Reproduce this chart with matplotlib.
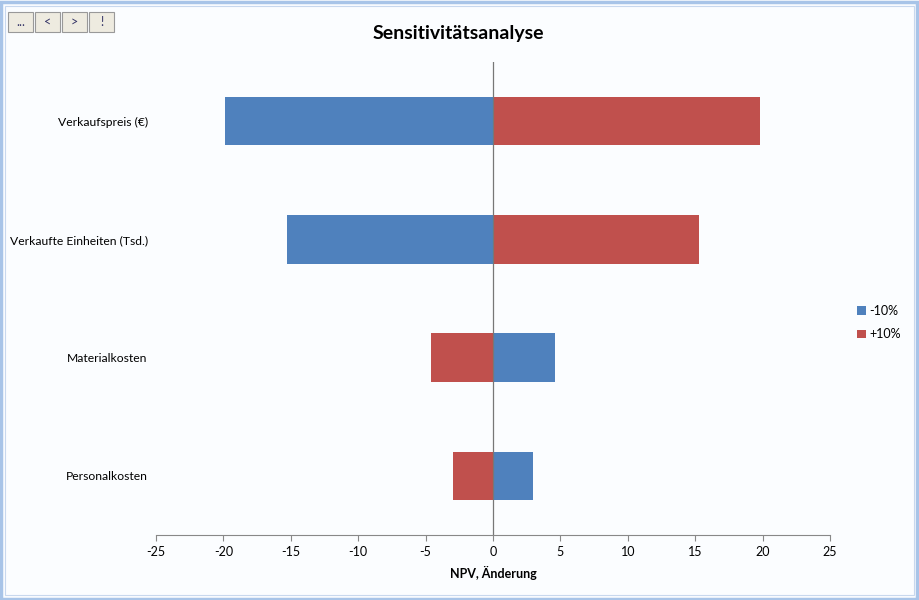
import matplotlib.pyplot as plt
from matplotlib.patches import Rectangle

# Daten
kategorien = ["Verkaufspreis (€)", "Verkaufte Einheiten (Tsd.)", "Materialkosten", "Personalkosten"]
minus_10 = [-19.9, -15.3, 4.6, 3.0]
plus_10 = [19.8, 15.3, -4.6, -3.0]
serien = ["-10%", "+10%"]
ticks_x = [-25, -20, -15, -10, -5, 0, 5, 10, 15, 20, 25]

BLAU = "#4F81BD"
ROT = "#C0504D"
HINTERGRUND = "#FBFDFF"

plt.rcParams['font.family'] = ['Lato', 'DejaVu Sans']

fig = plt.figure(figsize=(9.19, 6.0), dpi=100, facecolor=HINTERGRUND)
ax = fig.add_axes([156/919, 1 - 535/600, (830-156)/919, (535-62)/600])
ax.set_facecolor(HINTERGRUND)

y = list(range(len(kategorien)))
ax.barh(y, minus_10, height=0.41, color=BLAU, label=serien[0], zorder=2)
ax.barh(y, plus_10, height=0.41, color=ROT, label=serien[1], zorder=2)

ax.set_xlim(-25, 25)
ax.set_ylim(len(kategorien) - 0.5, -0.5)
ax.set_xticks(ticks_x)
ax.set_xticklabels([str(t) for t in ticks_x], fontsize=9)
ax.set_yticks(y)
ax.set_yticklabels(kategorien, fontsize=8.7)
ax.tick_params(axis='y', length=0, pad=6)
ax.tick_params(axis='x', length=4, color="#888888", pad=4)

for s in ["top", "right", "left"]:
    ax.spines[s].set_visible(False)
ax.spines["bottom"].set_color("#888888")
ax.axvline(0, color="#777777", lw=0.9, zorder=3)

ax.set_xlabel("NPV, Änderung", fontsize=9, fontweight="bold", labelpad=6)
fig.text(458/919, 1 - 33/600, "Sensitivitätsanalyse", ha="center", va="center",
         fontsize=14, fontweight="bold")

leg = fig.legend(loc="upper left", bbox_to_anchor=(852/919, 1 - 300/600), frameon=False,
                 fontsize=9, handlelength=0.7, handleheight=0.7, handletextpad=0.3,
                 labelspacing=0.9, borderaxespad=0)

# Rahmen
fig.patches.append(Rectangle((1/919, 1/600), 916/919, 597/600, transform=fig.transFigure,
                             fill=False, edgecolor="#A8C4E8", lw=2.5))
fig.patches.append(Rectangle((5/919, 5/600), 909/919, 589/600, transform=fig.transFigure,
                             fill=False, edgecolor="#C8D8EE", lw=0.8))

# Schaltflächen oben links
for i, zeichen in enumerate(["...", "<", ">", "!"]):
    x0 = 8 + i * 27
    fig.patches.append(Rectangle((x0/919, 1 - 32/600), 25/919, 20/600, transform=fig.transFigure,
                                 facecolor="#EEEBE0", edgecolor="#999999", lw=0.8))
    fig.text((x0 + 12.5)/919, 1 - 22/600, zeichen, ha="center", va="center", fontsize=9,
             color="#333366")

fig.savefig("out.png", dpi=100, facecolor=HINTERGRUND)
